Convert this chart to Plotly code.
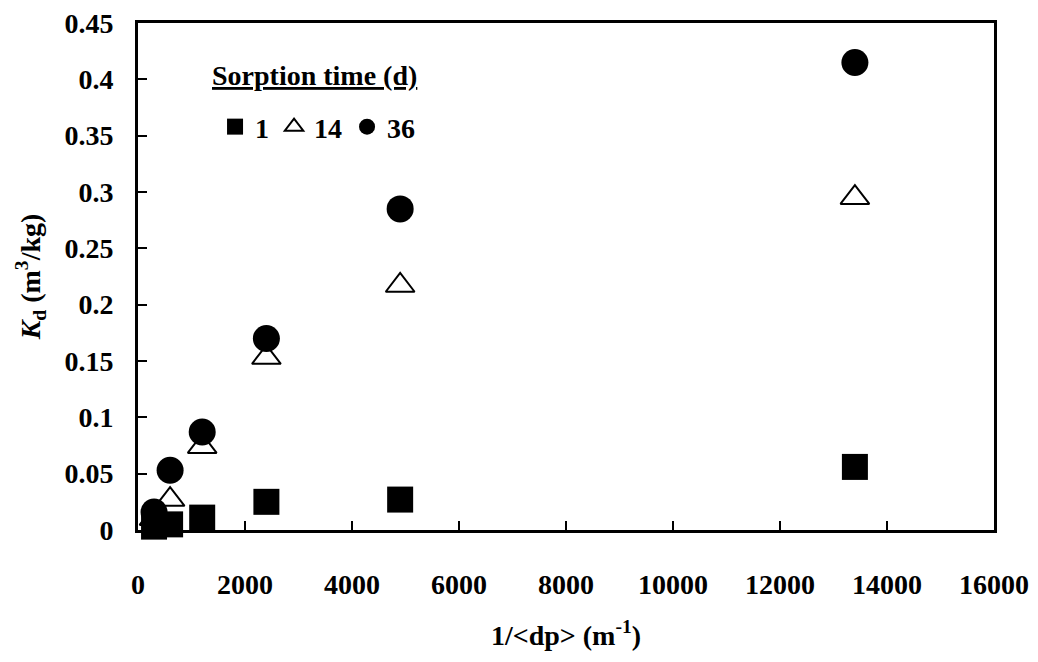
import plotly.graph_objects as go

inv_dp = [300, 600, 1200, 2400, 4900, 13400]
kd_1d = [0.003, 0.005, 0.011, 0.025, 0.027, 0.056]
kd_14d = [0.010, 0.027, 0.074, 0.153, 0.217, 0.295]
kd_36d = [0.016, 0.053, 0.087, 0.170, 0.285, 0.415]
series_names = ["1", "14", "36"]
legend_title = "Sorption time (d)"

x_ticks = [0, 2000, 4000, 6000, 8000, 10000, 12000, 14000, 16000]
y_ticks = [0, 0.05, 0.1, 0.15, 0.2, 0.25, 0.3, 0.35, 0.4, 0.45]

FONT = "Liberation Serif"
FS = 28

fig = go.Figure()
fig.add_trace(go.Scatter(
    x=inv_dp, y=kd_14d, mode="markers", name=series_names[1], legendrank=2,
    marker=dict(symbol="triangle-up", size=25, color="white",
                line=dict(color="black", width=2)),
    cliponaxis=False))
fig.add_trace(go.Scatter(
    x=inv_dp, y=kd_36d, mode="markers", name=series_names[2], legendrank=3,
    marker=dict(symbol="circle", size=27, color="black",
                line=dict(color="black", width=0)),
    cliponaxis=False))
fig.add_trace(go.Scatter(
    x=inv_dp, y=kd_1d, mode="markers", name=series_names[0], legendrank=1,
    marker=dict(symbol="square", size=26, color="black",
                line=dict(color="black", width=0)),
    cliponaxis=False))

fig.add_annotation(
    text="<u>" + legend_title + "</u>", xref="paper", yref="paper",
    x=0.084, y=0.897, xanchor="left", yanchor="middle", showarrow=False,
    font=dict(family=FONT, size=FS, color="black", weight="bold"))

fig.update_layout(
    width=1038, height=662,
    margin=dict(l=138, r=44, t=23, b=132),
    paper_bgcolor="white", plot_bgcolor="white",
    font=dict(family=FONT, size=FS, color="black", weight="bold"),
    showlegend=True,
    legend=dict(
        orientation="h", x=0.090, y=0.795, xanchor="left", yanchor="middle",
        font=dict(family=FONT, size=FS, color="black", weight="bold"),
        bgcolor="rgba(0,0,0,0)", itemwidth=30, traceorder="normal",
    ),
    xaxis=dict(
        range=[0, 16000], tickvals=x_ticks, ticktext=[str(v) for v in x_ticks],
        ticks="inside", ticklen=9, tickwidth=2, tickcolor="black",
        showline=True, linecolor="black", linewidth=3, mirror=True,
        showgrid=False, zeroline=False, ticklabelstandoff=27, automargin=False,
        tickfont=dict(family=FONT, size=FS, color="black", weight="bold"),
        title=dict(text="<b>1/&lt;dp&gt; (m<sup>-1</sup>)</b>", standoff=27,
                   font=dict(family=FONT, size=FS, color="black")),
    ),
    yaxis=dict(
        range=[0, 0.45], tickvals=y_ticks,
        ticktext=[("%g" % v) for v in y_ticks],
        ticks="inside", ticklen=9, tickwidth=2, tickcolor="black",
        showline=True, linecolor="black", linewidth=3, mirror=True,
        showgrid=False, zeroline=False, ticklabelstandoff=16, automargin=False,
        tickfont=dict(family=FONT, size=FS, color="black", weight="bold"),
        title=dict(text="<b><i>K</i><sub>d</sub> (m<sup>3</sup>/kg)</b>", standoff=16,
                   font=dict(family=FONT, size=FS, color="black")),
    ),
)

fig.write_html("out.html")
